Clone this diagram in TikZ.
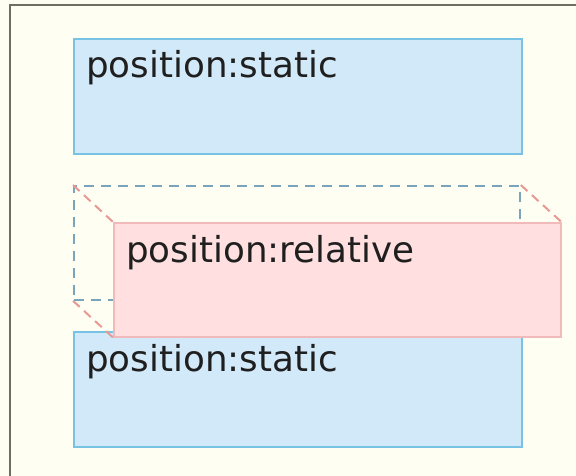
\documentclass[tikz,border=0pt]{standalone}
\usepackage{fontspec}
\setmainfont{DejaVu Sans}
\definecolor{bg}{HTML}{FEFEF2}
\definecolor{frame}{HTML}{6E6E66}
\definecolor{bfill}{HTML}{D2E9F9}
\definecolor{bdraw}{HTML}{78C2E4}
\definecolor{pfill}{HTML}{FFDFDF}
\definecolor{pdraw}{HTML}{F0BABA}
\definecolor{gdash}{HTML}{7AA4BC}
\definecolor{pdash}{HTML}{E89A92}
\begin{document}
\begin{tikzpicture}[x=1pt,y=-1pt,
  staticbox/.style={draw=bdraw,fill=bfill,line width=1.8pt,anchor=north west,minimum width=448pt,minimum height=115pt,inner sep=0pt},
  relbox/.style={draw=pdraw,fill=pfill,line width=1.5pt,anchor=north west,minimum width=447pt,minimum height=114pt,inner sep=0pt},
  ghostbox/.style={draw=gdash,line width=1.8pt,dash pattern=on 10pt off 7pt,anchor=north west,minimum width=446pt,minimum height=114pt,inner sep=0pt},
  offsetline/.style={draw=pdash,line width=2pt,dash pattern=on 9pt off 6pt},
  lbl/.style={anchor=base west,inner sep=0pt,text=black!88,font=\fontsize{35.7}{42}\selectfont}]
\useasboundingbox (0,0) rectangle (576,476);
\fill[bg] (0,0) rectangle (576,476);
\draw[frame,line width=2pt] (9.5,480) -- (9.5,5.5) -- (580,5.5);
\node[staticbox] (s1) at (73,38) {};
\node[lbl] (t1) at (86,78) {position:static};
\node[ghostbox] (ghost) at (73,185) {};
\node[staticbox] (s2) at (73,331) {};
\node[lbl] (t2) at (86,371) {position:static};
\node[relbox] (rel) at (113,222) {};
\node[lbl] (t3) at (126,262) {position:relative};
\draw[offsetline] (ghost.north west) -- (rel.north west);
\draw[offsetline] (ghost.north east) -- (rel.north east);
\draw[offsetline] (ghost.south west) -- (rel.south west);
\end{tikzpicture}
\end{document}
